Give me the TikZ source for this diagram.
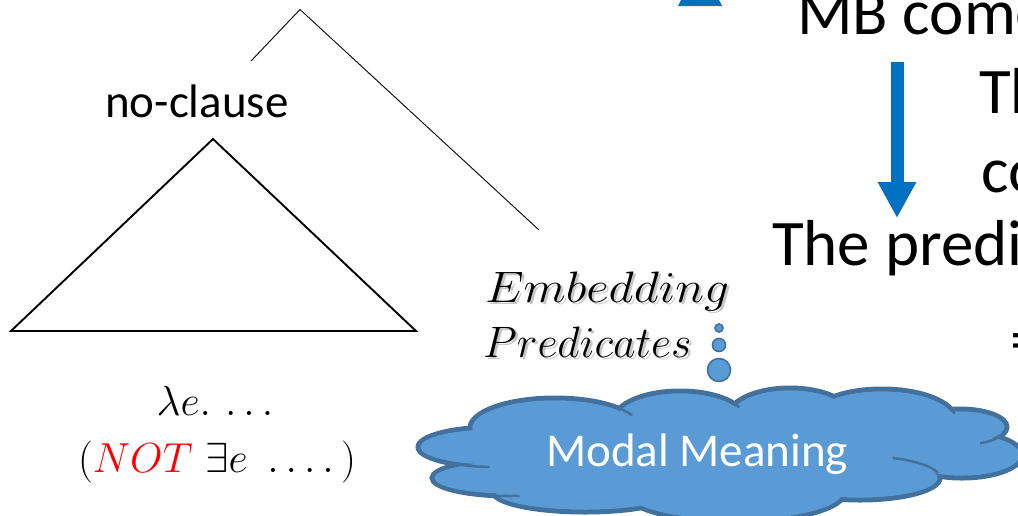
\RequirePackage{fix-cm}
\documentclass[tikz,border=0pt]{standalone}
\usepackage{fontspec}
\newfontfamily\calibri{Carlito}
\usetikzlibrary{arrows.meta,calc}
\definecolor{arrowblue}{HTML}{0070C0}
\definecolor{cloudfill}{HTML}{5B9BD5}
\definecolor{cloudline}{HTML}{41719C}
\definecolor{notred}{HTML}{FF0000}

\tikzset{
  slidetext/.style={font=\calibri\fontsize{65}{72}\selectfont, inner sep=0pt, anchor=base west},
  labeltext/.style={font=\calibri\fontsize{47}{52}\selectfont, inner sep=0pt, anchor=base west},
  formula/.style={font=\fontsize{42}{50}\selectfont, inner sep=0pt, anchor=base},
  predtext/.style={font=\fontsize{44}{50}\selectfont, inner sep=0pt, anchor=base west},
  predshadow/.style={predtext, text=black!40, opacity=0.55},
  treeline/.style={line width=0.9pt, black},
  subtree/.style={line width=1.9pt, black, line join=miter},
  blockarrow/.style={line width=13pt, arrowblue, -{Triangle[length=36pt, width=36pt]}},
  bubble/.style={circle, fill=cloudfill, draw=cloudline, line width=1.6pt, inner sep=0pt},
  lobe/.style={fill=cloudfill, draw=cloudline, line width=5pt},
  lobefill/.style={fill=cloudfill},
  innerarc/.style={draw=cloudline, line width=2.5pt},
  cloudtext/.style={font=\calibri\fontsize{47}{52}\selectfont, text=white, inner sep=0pt, anchor=base west}
}
\newcommand{\widepred}[1]{\scalebox{1.12}[1]{$#1$}}

\begin{document}
\begin{tikzpicture}[x=1pt, y=-1pt]
\useasboundingbox (0,0) rectangle (1018,515);
\clip (0,0) rectangle (1018,515);

% --- tree branch above the no-clause ---
\coordinate (apex) at (300,9.5);
\coordinate (leftend) at (251,61);
\coordinate (rightend) at (539,230);
\draw[treeline] (leftend) -- (apex) -- (rightend);

% --- collapsed subtree ---
\node[labeltext] (noclause) at (105,117) {no-clause};
\coordinate (tritop) at (213,139);
\coordinate (trileft) at (11,331);
\coordinate (triright) at (416,331);
\draw[subtree] (tritop) -- (trileft) -- (triright) -- cycle;

% --- denotation of the no-clause ---
\node[formula] (lambda) at (215,415) {$\lambda e.\,\ldots$};
\node[formula] (negation) at (217,472) {$(\textcolor{notred}{NOT}\ \exists e\ \ldots.\,)$};

% --- embedding predicates with a soft shadow ---
\node[predshadow] at (487.5,304.5) {\widepred{Embedding}};
\node[predshadow] at (485.5,359.5) {$Predicates$};
\node[predtext] (embed) at (485,302) {\widepred{Embedding}};
\node[predtext] (pred) at (483,357) {$Predicates$};

% --- thought bubbles ---
\node[bubble, minimum size=8pt] (b1) at (719,328) {};
\node[bubble, minimum size=13pt] (b2) at (719,345) {};
\node[bubble, minimum size=23pt] (b3) at (719,370) {};

% --- cloud: lobes stroked, then filled to keep only the outer outline ---
\foreach \cx/\cy/\rx/\ry in {
  495/447/77/20, 510/478/78/18, 555/428/85/30, 680/420/66/29,
  790/417/62/29, 882/420/74/31, 960/427/47/18, 962/455/60/23,
  860/478/80/22, 735/492/110/30, 585/492/92/20}
  \path[lobe] (\cx,\cy) ellipse [x radius=\rx, y radius=\ry];
\foreach \cx/\cy/\rx/\ry in {
  495/447/77/20, 510/478/78/18, 555/428/85/30, 680/420/66/29,
  790/417/62/29, 882/420/74/31, 960/427/47/18, 962/455/60/23,
  860/478/80/22, 735/492/110/30, 585/492/92/20}
  \path[lobefill] (\cx,\cy) ellipse [x radius=\rx-2.5, y radius=\ry-2.5];
\path[lobefill] (720,452) ellipse [x radius=240, y radius=45];
% inner folds of the cloud
\draw[innerarc] ($(495,447)+(94:77 and 20)$) arc [start angle=94, end angle=139, x radius=77, y radius=20];
\draw[innerarc] ($(555,428)+(313:85 and 30)$) arc [start angle=313, end angle=335, x radius=85, y radius=30];
\draw[innerarc] ($(510,478)+(83:78 and 18)$) arc [start angle=83, end angle=105, x radius=78, y radius=18];
\draw[innerarc] ($(860,478)+(294:80 and 22)$) arc [start angle=294, end angle=347, x radius=80, y radius=22];
\draw[innerarc] ($(960,427)+(32:47 and 18)$) arc [start angle=32, end angle=65, x radius=47, y radius=18];
\draw[innerarc] ($(790,417)+(303:62 and 29)$) arc [start angle=303, end angle=316, x radius=62, y radius=29];
\draw[innerarc] ($(680,420)+(326:66 and 29)$) arc [start angle=326, end angle=334, x radius=66, y radius=29];
\draw[innerarc] ($(882,420)+(341:74 and 31)$) arc [start angle=341, end angle=348, x radius=74, y radius=31];
\node[cloudtext] (modal) at (546,466) {Modal Meaning};

% --- text on the right ---
\node[slidetext] (mb) at (797,34) {MB come};
\node[slidetext] (th) at (979,113) {Th};
\node[slidetext] (co) at (981,192) {co};
\node[slidetext] (pred2) at (772,265) {The predi};
\node[slidetext] (eq) at (1010,361) {=};

% --- block arrows ---
\coordinate (arrowstart) at (897,62);
\coordinate (arrowend) at (897,218);
\draw[blockarrow] (arrowstart) -- (arrowend);
\coordinate (uptipL) at (678,6);
\coordinate (uptipR) at (722,6);
\coordinate (uptip) at (700,-38);
\fill[arrowblue] (uptipL) -- (uptipR) -- (uptip) -- cycle;
\end{tikzpicture}
\end{document}
